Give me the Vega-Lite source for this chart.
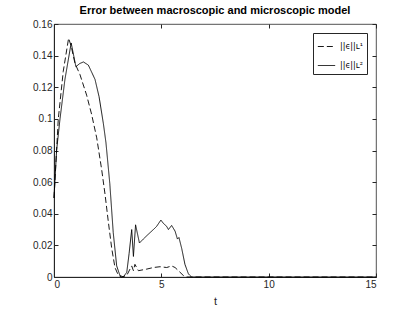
{
  "$schema": "https://vega.github.io/schema/vega-lite/v6.json",
  "width": 322,
  "height": 253,
  "autosize": {"type": "none"},
  "padding": {"left": 54, "top": 24, "right": 39, "bottom": 35},
  "title": {"text": "Error between macroscopic and microscopic model", "font": "Liberation Sans", "fontSize": 11, "fontWeight": "bold", "color": "#000000", "offset": 3},
  "config": {
    "view": {"stroke": "#262626", "strokeWidth": 0.8},
    "axis": {"grid": false, "labelFont": "Liberation Sans", "titleFont": "Liberation Sans", "labelFontSize": 10, "labelColor": "#262626", "domainColor": "#262626", "tickColor": "#262626", "tickSize": -4, "labelPadding": 6, "titleFontWeight": "normal", "titleFontSize": 11, "titleColor": "#262626"}
  },
  "resolve": {"axis": {"x": "independent", "y": "independent"}},
  "data": {"values": [
    {"t": 0, "v": 0.05, "s": "L2"},
    {"t": 0.12, "v": 0.08, "s": "L2"},
    {"t": 0.28, "v": 0.1, "s": "L2"},
    {"t": 0.51, "v": 0.125, "s": "L2"},
    {"t": 0.8, "v": 0.148, "s": "L2"},
    {"t": 1.02, "v": 0.133, "s": "L2"},
    {"t": 1.2, "v": 0.135, "s": "L2"},
    {"t": 1.37, "v": 0.136, "s": "L2"},
    {"t": 1.6, "v": 0.134, "s": "L2"},
    {"t": 1.91, "v": 0.125, "s": "L2"},
    {"t": 2.1, "v": 0.114, "s": "L2"},
    {"t": 2.3, "v": 0.097, "s": "L2"},
    {"t": 2.42, "v": 0.085, "s": "L2"},
    {"t": 2.6, "v": 0.059, "s": "L2"},
    {"t": 2.76, "v": 0.028, "s": "L2"},
    {"t": 2.92, "v": 0.007, "s": "L2"},
    {"t": 3.07, "v": 0.001, "s": "L2"},
    {"t": 3.23, "v": 0, "s": "L2"},
    {"t": 3.39, "v": 0.003, "s": "L2"},
    {"t": 3.5, "v": 0.015, "s": "L2"},
    {"t": 3.62, "v": 0.03, "s": "L2"},
    {"t": 3.7, "v": 0.013, "s": "L2"},
    {"t": 3.8, "v": 0.033, "s": "L2"},
    {"t": 3.98, "v": 0.0215, "s": "L2"},
    {"t": 4.16, "v": 0.024, "s": "L2"},
    {"t": 4.39, "v": 0.027, "s": "L2"},
    {"t": 4.63, "v": 0.03, "s": "L2"},
    {"t": 4.78, "v": 0.032, "s": "L2"},
    {"t": 4.98, "v": 0.036, "s": "L2"},
    {"t": 5.09, "v": 0.034, "s": "L2"},
    {"t": 5.25, "v": 0.032, "s": "L2"},
    {"t": 5.33, "v": 0.03, "s": "L2"},
    {"t": 5.48, "v": 0.0326, "s": "L2"},
    {"t": 5.64, "v": 0.029, "s": "L2"},
    {"t": 5.75, "v": 0.024, "s": "L2"},
    {"t": 5.82, "v": 0.025, "s": "L2"},
    {"t": 5.95, "v": 0.018, "s": "L2"},
    {"t": 6.1, "v": 0.008, "s": "L2"},
    {"t": 6.26, "v": 0.002, "s": "L2"},
    {"t": 6.41, "v": 0, "s": "L2"},
    {"t": 15, "v": 0, "s": "L2"},
    {"t": 0, "v": 0.05, "s": "L1"},
    {"t": 0.2, "v": 0.1, "s": "L1"},
    {"t": 0.43, "v": 0.13, "s": "L1"},
    {"t": 0.68, "v": 0.151, "s": "L1"},
    {"t": 0.8, "v": 0.146, "s": "L1"},
    {"t": 0.98, "v": 0.135, "s": "L1"},
    {"t": 1.21, "v": 0.128, "s": "L1"},
    {"t": 1.52, "v": 0.115, "s": "L1"},
    {"t": 1.75, "v": 0.103, "s": "L1"},
    {"t": 1.99, "v": 0.088, "s": "L1"},
    {"t": 2.22, "v": 0.068, "s": "L1"},
    {"t": 2.38, "v": 0.052, "s": "L1"},
    {"t": 2.53, "v": 0.035, "s": "L1"},
    {"t": 2.69, "v": 0.018, "s": "L1"},
    {"t": 2.84, "v": 0.006, "s": "L1"},
    {"t": 3.0, "v": 0.001, "s": "L1"},
    {"t": 3.15, "v": 0, "s": "L1"},
    {"t": 3.39, "v": 0.001, "s": "L1"},
    {"t": 3.54, "v": 0.005, "s": "L1"},
    {"t": 3.62, "v": 0.007, "s": "L1"},
    {"t": 3.7, "v": 0.004, "s": "L1"},
    {"t": 3.77, "v": 0.008, "s": "L1"},
    {"t": 3.93, "v": 0.004, "s": "L1"},
    {"t": 4.32, "v": 0.005, "s": "L1"},
    {"t": 4.63, "v": 0.006, "s": "L1"},
    {"t": 4.94, "v": 0.0065, "s": "L1"},
    {"t": 5.25, "v": 0.006, "s": "L1"},
    {"t": 5.48, "v": 0.007, "s": "L1"},
    {"t": 5.64, "v": 0.006, "s": "L1"},
    {"t": 5.87, "v": 0.003, "s": "L1"},
    {"t": 6.02, "v": 0.001, "s": "L1"},
    {"t": 6.18, "v": 0, "s": "L1"},
    {"t": 15, "v": 0, "s": "L1"}
  ]},
  "layer": [
    {
      "mark": {"type": "line", "strokeWidth": 0.9, "color": "#000000"},
      "encoding": {
        "x": {"field": "t", "type": "quantitative", "scale": {"domain": [0, 15], "nice": false}, "axis": {"values": [0, 5, 10, 15], "title": "t", "titlePadding": 6}},
        "y": {"field": "v", "type": "quantitative", "scale": {"domain": [0, 0.16], "nice": false}, "axis": {"values": [0, 0.02, 0.04, 0.06, 0.08, 0.1, 0.12, 0.14, 0.16], "title": null, "labelExpr": "datum.value == 0 ? '0' : format(datum.value, '.2~f')"}},
        "strokeDash": {
          "field": "s", "type": "nominal",
          "scale": {"domain": ["L1", "L2"], "range": [[6, 3], [1, 0]]},
          "legend": {
            "title": null, "orient": "top-right", "offset": 9,
            "labelExpr": "datum.value == 'L1' ? '||ϵ||ʟ¹' : '||ϵ||ʟ²'",
            "strokeColor": "#262626", "fillColor": "#ffffff", "padding": 4,
            "symbolType": "stroke", "symbolSize": 300, "symbolStrokeColor": "#000000", "symbolStrokeWidth": 0.9,
            "labelFont": "DejaVu Sans", "labelFontSize": 8, "labelColor": "#000000", "labelOffset": 4, "rowPadding": 5
          }
        }
      }
    },
    {
      "mark": {"type": "line", "opacity": 0},
      "encoding": {
        "x": {"field": "t", "type": "quantitative", "axis": {"orient": "top", "values": [0, 5, 10, 15], "labels": false, "domain": false, "title": null}},
        "y": {"field": "v", "type": "quantitative", "axis": {"orient": "right", "values": [0, 0.02, 0.04, 0.06, 0.08, 0.1, 0.12, 0.14, 0.16], "labels": false, "domain": false, "title": null}}
      }
    }
  ]
}
